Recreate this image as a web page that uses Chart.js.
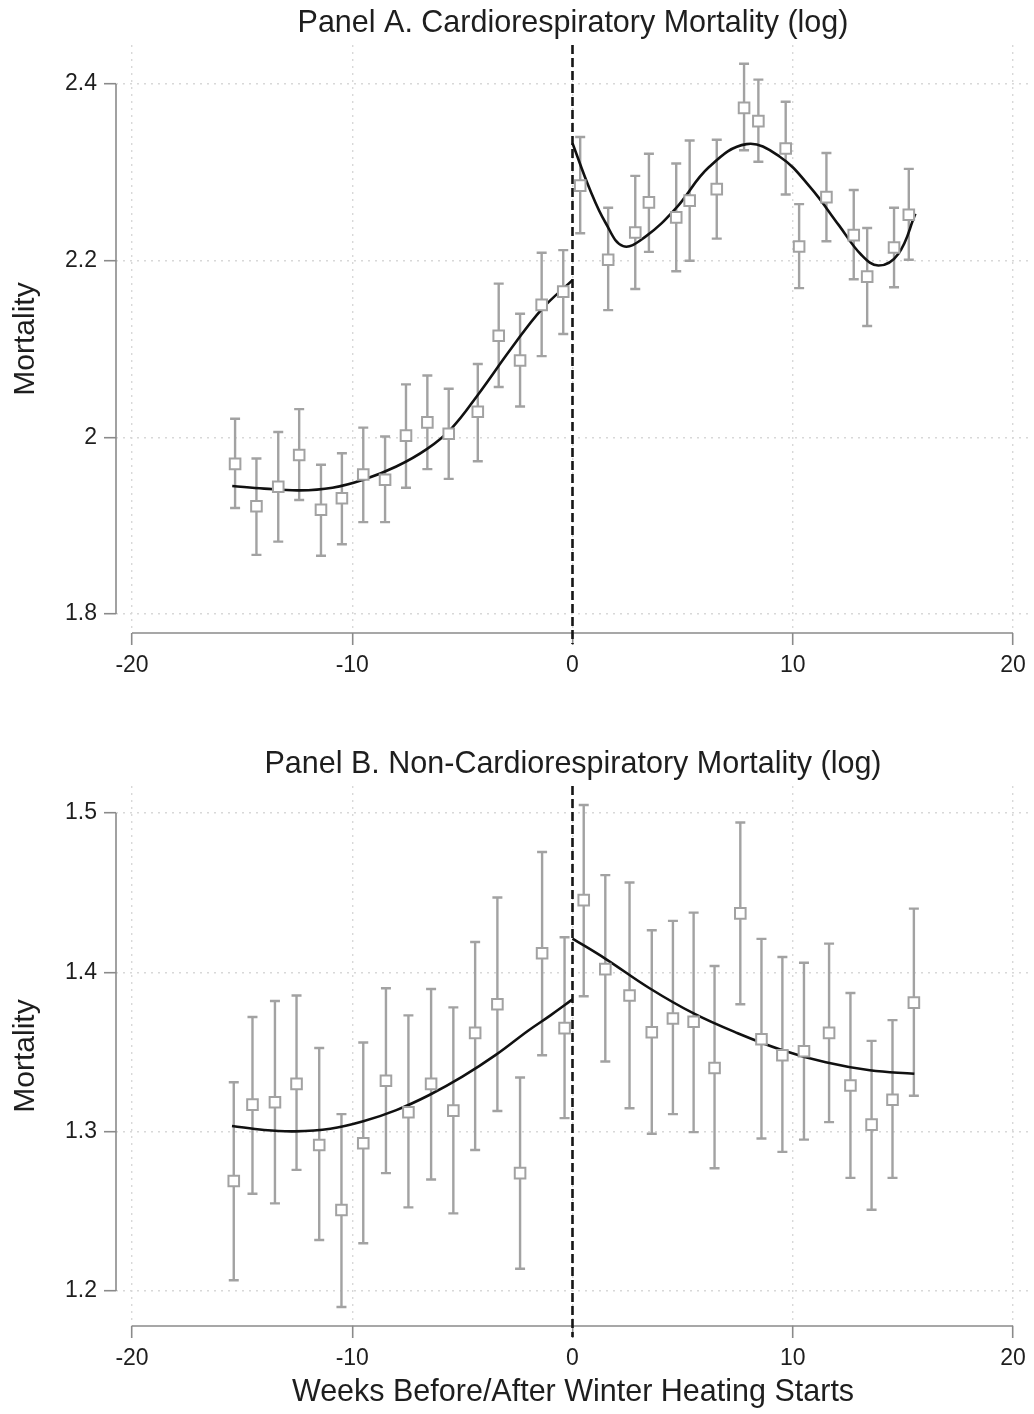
<!DOCTYPE html>
<html><head><meta charset="utf-8">
<script src="https://cdn.jsdelivr.net/npm/chart.js@4.4.0/dist/chart.umd.min.js"></script>
<style>
html,body{margin:0;padding:0;background:#fff;}
#wrap{width:1034px;height:1414px;position:relative;background:#fff;}
.box{position:absolute;left:0;width:1034px;}
canvas{display:block;}
</style></head><body>
<div id="wrap">
<div class="box" style="top:0;height:720px"><canvas id="cA" width="1034" height="720"></canvas></div>
<div class="box" style="top:720px;height:694px"><canvas id="cB" width="1034" height="694"></canvas></div>
</div>
<script>
// ---- tick labels ----
const xTicks = [-20, -10, 0, 10, 20];
const yTicksA = [1.8, 2, 2.2, 2.4];
const yTicksB = [1.2, 1.3, 1.4, 1.5];

// ---- Panel A: weekly estimates ----
const weeksA = [-15.32,-14.35,-13.36,-12.41,-11.42,-10.47,-9.5,-8.51,-7.56,-6.59,-5.62,-4.3,-3.35,-2.38,-1.4,-0.42,
                0.35,1.62,2.85,3.47,4.71,5.32,6.55,7.79,8.44,9.68,10.29,11.53,12.77,13.38,14.6,15.27];
const meanA  = [1.970,1.922,1.944,1.980,1.918,1.931,1.958,1.952,2.002,2.017,2.004,2.029,2.115,2.087,2.150,2.165,
                2.285,2.201,2.232,2.266,2.249,2.268,2.281,2.373,2.358,2.327,2.216,2.272,2.229,2.182,2.215,2.252];
const lowA   = [1.920,1.867,1.882,1.929,1.866,1.879,1.904,1.904,1.943,1.964,1.953,1.973,2.057,2.035,2.092,2.117,
                2.231,2.144,2.168,2.210,2.188,2.200,2.225,2.325,2.312,2.275,2.169,2.222,2.179,2.126,2.170,2.201];
const highA  = [2.021,1.976,2.006,2.032,1.969,1.982,2.011,2.001,2.060,2.070,2.055,2.083,2.174,2.140,2.209,2.212,
                2.340,2.260,2.296,2.321,2.310,2.336,2.337,2.423,2.405,2.380,2.264,2.322,2.280,2.237,2.260,2.304];
// fitted curves
const fitAPreX  = [-15.45,-14,-12.4,-10.9,-9.5,-8,-6.6,-5.5,-4.3,-2.8,-1.4,0];
const fitAPreY  = [1.945,1.942,1.940,1.943,1.952,1.967,1.987,2.010,2.048,2.100,2.145,2.178];
const fitAPostX = [0,0.8,1.5,2.3,3.3,4.7,6.2,7.9,9.4,10.8,12.1,13.1,13.9,14.8,15.57];
const fitAPostY = [2.333,2.280,2.243,2.2165,2.227,2.2595,2.306,2.332,2.318,2.283,2.240,2.207,2.1945,2.208,2.2531];

// ---- Panel B: weekly estimates ----
const weeksB = [-15.38,-14.53,-13.51,-12.53,-11.5,-10.49,-9.5,-8.47,-7.45,-6.42,-5.41,-4.42,-3.41,-2.38,-1.38,-0.36,
                0.51,1.49,2.59,3.6,4.56,5.5,6.45,7.62,8.58,9.53,10.51,11.65,12.62,13.58,14.53,15.5];
const meanB  = [1.269,1.317,1.3185,1.330,1.2916,1.2508,1.2927,1.332,1.3122,1.330,1.3132,1.362,1.380,1.274,1.412,1.365,
                1.4453,1.402,1.3855,1.3624,1.371,1.369,1.340,1.437,1.358,1.348,1.3505,1.362,1.329,1.3044,1.320,1.381];
const lowB   = [1.2067,1.261,1.255,1.276,1.232,1.190,1.230,1.274,1.2525,1.270,1.2487,1.2885,1.313,1.214,1.348,1.3085,
                1.385,1.344,1.3147,1.2987,1.311,1.2997,1.277,1.380,1.2957,1.2873,1.295,1.306,1.271,1.251,1.271,1.3225];
const highB  = [1.331,1.372,1.382,1.3855,1.3525,1.311,1.356,1.390,1.373,1.3895,1.378,1.419,1.447,1.334,1.4755,1.422,
                1.505,1.461,1.4564,1.4264,1.4323,1.4375,1.404,1.494,1.421,1.4096,1.406,1.418,1.387,1.357,1.370,1.440];
const fitBPreX  = [-15.46,-14,-12.6,-11,-9.5,-8,-6.5,-5,-3.5,-2,-1,0];
const fitBPreY  = [1.3036,1.3010,1.3002,1.3018,1.3065,1.3135,1.3230,1.3345,1.3480,1.3635,1.3730,1.3830];
const fitBPostX = [0,1.5,3.5,5.5,7.5,9.5,11.5,13.5,15.52];
const fitBPostY = [1.4212,1.4085,1.3900,1.3742,1.3618,1.3513,1.3435,1.3385,1.3363];

const FONT = "'Liberation Sans', Arial, 'Helvetica', sans-serif";
const TXT = '#1e1e1e';
const GREY = '#a2a2a2';
const AXIS = '#8a8a8a';
const GRID = '#d8d8d8';

const pts = (xs, ys) => xs.map((v, i) => ({x: v, y: ys[i]}));

const decor = {
  id: 'decor',
  beforeDatasetsDraw(chart, args, o) {
    const {ctx, chartArea: a, scales: {x, y}} = chart;
    ctx.save();
    // axis lines limited to the tick range
    ctx.strokeStyle = AXIS; ctx.lineWidth = 1.6; ctx.setLineDash([]);
    ctx.beginPath();
    ctx.moveTo(a.left, y.getPixelForValue(o.yt[0]));
    ctx.lineTo(a.left, y.getPixelForValue(o.yt[o.yt.length - 1]));
    ctx.moveTo(x.getPixelForValue(xTicks[0]), a.bottom);
    ctx.lineTo(x.getPixelForValue(xTicks[xTicks.length - 1]), a.bottom);
    ctx.stroke();
    // error bars
    ctx.strokeStyle = GREY; ctx.lineWidth = 2.4;
    o.wk.forEach((w, i) => {
      const px = x.getPixelForValue(w);
      const t = y.getPixelForValue(o.hi[i]);
      const b = y.getPixelForValue(o.lo[i]);
      ctx.beginPath();
      ctx.moveTo(px, t); ctx.lineTo(px, b);
      ctx.moveTo(px - 5, t); ctx.lineTo(px + 5, t);
      ctx.moveTo(px - 5, b); ctx.lineTo(px + 5, b);
      ctx.stroke();
    });
    // cutoff line at week 0
    const cx = x.getPixelForValue(0);
    ctx.strokeStyle = '#161616'; ctx.lineWidth = 2.6; ctx.setLineDash([9, 4]);
    ctx.beginPath(); ctx.moveTo(cx, a.top); ctx.lineTo(cx, a.bottom + 11); ctx.stroke();
    ctx.restore();
  },
  afterDraw(chart, args, o) {
    const {ctx, chartArea: a} = chart;
    ctx.save();
    ctx.fillStyle = TXT;
    ctx.font = `30.5px ${FONT}`;
    ctx.textAlign = 'center'; ctx.textBaseline = 'middle';
    ctx.fillText(o.title, (a.left + a.right) / 2, o.titleY);
    ctx.restore();
  }
};

const fmt = v => String(Math.round(v * 100) / 100);

function makeChart(id, cfg) {
  return new Chart(document.getElementById(id), {
    type: 'scatter',
    data: {
      datasets: [
        {data: pts(cfg.wk, cfg.mean), pointStyle: 'rect', pointRadius: 7.5, pointHoverRadius: 7.5,
         pointBorderWidth: 2, borderColor: GREY, backgroundColor: '#ffffff', order: 1},
        {data: pts(cfg.preX, cfg.preY), showLine: true, borderColor: '#111', borderWidth: 2.6,
         pointRadius: 0, tension: 0.4, order: 2},
        {data: pts(cfg.postX, cfg.postY), showLine: true, borderColor: '#111', borderWidth: 2.6,
         pointRadius: 0, tension: 0.4, order: 2}
      ]
    },
    options: {
      responsive: false, animation: false, devicePixelRatio: 1,
      layout: {autoPadding: false, padding: {left: 0, right: 4, top: cfg.top, bottom: 0}},
      plugins: {
        legend: {display: false}, tooltip: {enabled: false}, title: {display: false},
        decor: {wk: cfg.wk, lo: cfg.lo, hi: cfg.hi, yt: cfg.yt, title: cfg.title, titleY: cfg.titleY}
      },
      scales: {
        x: {
          type: 'linear', min: -20.727, max: 20.773,
          afterBuildTicks: s => { s.ticks = xTicks.map(v => ({value: v})); },
          afterFit: s => { s.height = cfg.xh; s.paddingLeft = 0; s.paddingRight = 0; },
          ticks: {color: TXT, font: {family: FONT, size: 23}, padding: 7, maxRotation: 0, autoSkip: false,
                  callback: v => fmt(v)},
          grid: {color: GRID, lineWidth: 1.4, tickLength: 12, tickColor: AXIS, tickWidth: 1.6, tickBorderDash: []},
          border: {display: false, dash: [2, 5]},
          title: {display: !!cfg.xtitle, text: cfg.xtitle || '', color: TXT,
                  font: {family: FONT, size: 30.5, lineHeight: 1.2}, padding: {top: 0, bottom: 3}}
        },
        y: {
          type: 'linear', min: cfg.ymin, max: cfg.ymax,
          afterBuildTicks: s => { s.ticks = cfg.yt.map(v => ({value: v})); },
          afterFit: s => { s.width = 116; s.paddingTop = 0; s.paddingBottom = 0; },
          ticks: {color: TXT, font: {family: FONT, size: 23}, padding: 7, autoSkip: false,
                  callback: v => fmt(v)},
          grid: {color: GRID, lineWidth: 1.4, tickLength: 12, tickColor: AXIS, tickWidth: 1.6, tickBorderDash: []},
          border: {display: false, dash: [2, 5]},
          title: {display: true, text: 'Mortality', color: TXT,
                  font: {family: FONT, size: 30, lineHeight: 1.2}, padding: {top: 8, bottom: 0}}
        }
      }
    },
    plugins: [decor]
  });
}

makeChart('cA', {
  title: 'Panel A. Cardiorespiratory Mortality (log)', top: 45, titleY: 24,
  wk: weeksA, mean: meanA, lo: lowA, hi: highA,
  preX: fitAPreX, preY: fitAPreY, postX: fitAPostX, postY: fitAPostY,
  yt: yTicksA, ymin: 1.7785, ymax: 2.4442, xh: 87, xtitle: null
});
makeChart('cB', {
  title: 'Panel B. Non-Cardiorespiratory Mortality (log)', top: 66, titleY: 45,
  wk: weeksB, mean: meanB, lo: lowB, hi: highB,
  preX: fitBPreX, preY: fitBPreY, postX: fitBPostX, postY: fitBPostY,
  yt: yTicksB, ymin: 1.17803, ymax: 1.51695, xh: 88,
  xtitle: 'Weeks Before/After Winter Heating Starts'
});
</script>
</body></html>
